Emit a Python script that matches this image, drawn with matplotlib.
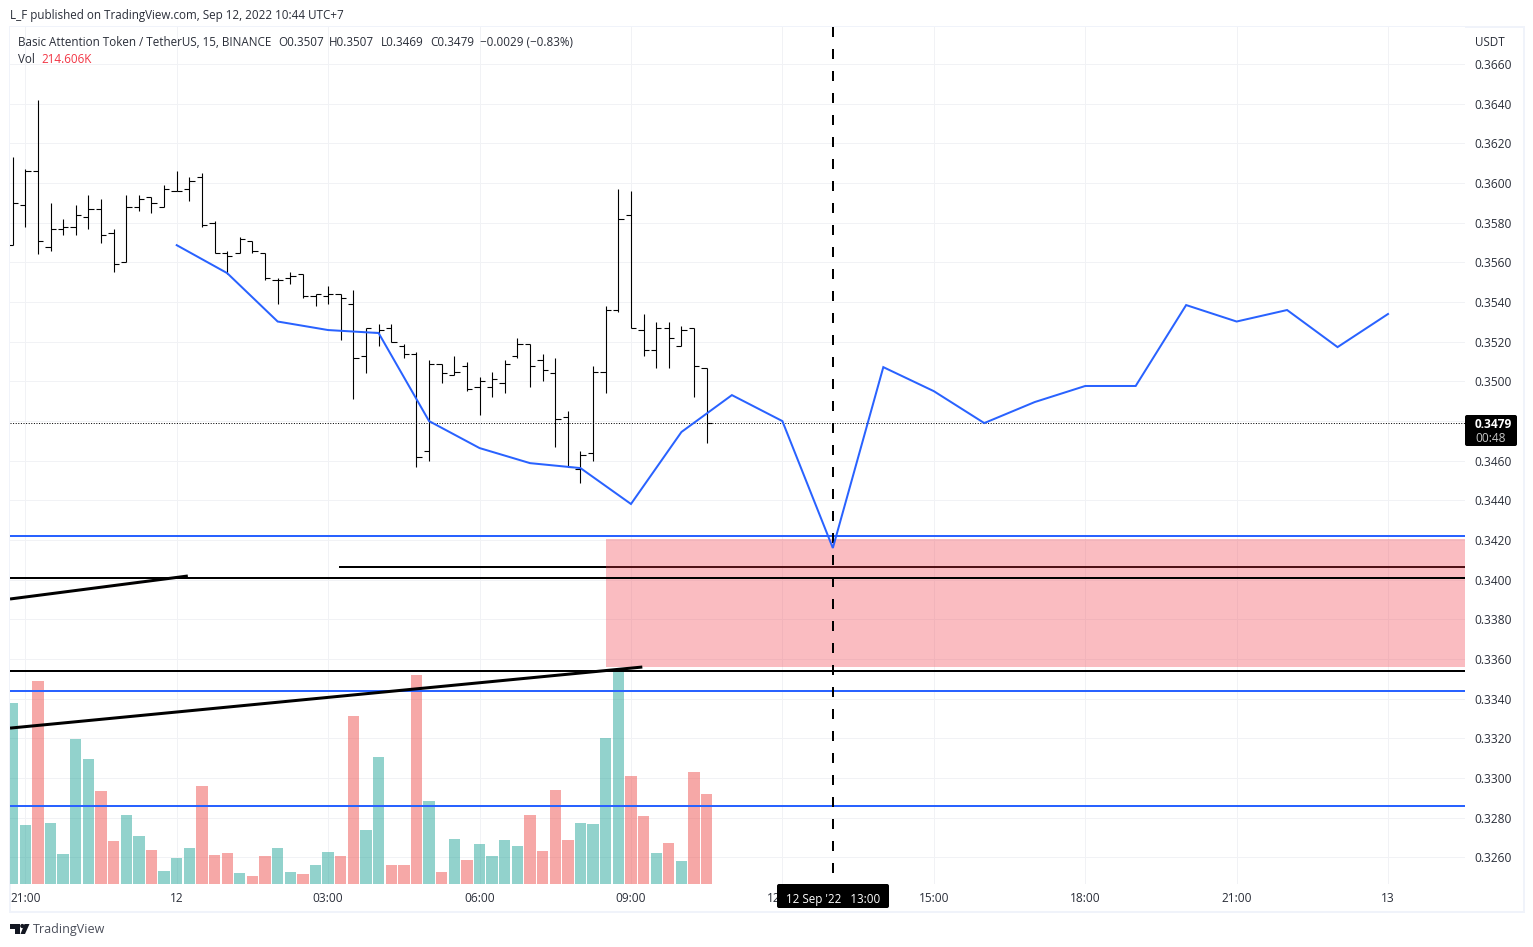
import numpy as np
import matplotlib
matplotlib.use("Agg")
import matplotlib.pyplot as plt
from matplotlib.patches import FancyBboxPatch, Rectangle, Polygon, Circle
from matplotlib.transforms import IdentityTransform

plt.rcParams['font.family'] = ['Open Sans', 'DejaVu Sans']
plt.rcParams['lines.scale_dashes'] = False

W, H = 1533, 947

# bars start one bar before the 21:00 tick (index 0)
opens = [.3569,.3589,.3606,.3568,.3577,.3578,.3583,.3587,.3575,.3560,.3588,.3593,.3588,.3596,.3597,.3603,.3580,.3565,.3565,.3571,.3565,.3551,.3552,.3554,.3543,.3543,.3544,.3539,.3513,.3525,.3527,.3518,.3514,.3465,.3509,.3503,.3508,.3497,.3497,.3499,.3513,.3519,.3511,.3504,.3482,.3456,.3464,.3505,.3536,.3584,.3526,.3516,.3527,.3518,.3527,.3507]
highs = [.3613,.3607,.3642,.3590,.3582,.3589,.3594,.3592,.3577,.3594,.3594,.3593,.3599,.3606,.3603,.3605,.3581,.3566,.3573,.3571,.3565,.3552,.3555,.3554,.3544,.3548,.3544,.3546,.3527,.3529,.3529,.3519,.3515,.3511,.3509,.3513,.3510,.3502,.3505,.3511,.3522,.3519,.3514,.3512,.3485,.3465,.3508,.3538,.3597,.3596,.3534,.3530,.3530,.3528,.3527,.3507]
lows = [.3569,.3578,.3564,.3566,.3574,.3574,.3577,.3570,.3555,.3560,.3586,.3585,.3588,.3596,.3591,.3578,.3565,.3554,.3565,.3565,.3551,.3539,.3549,.3542,.3538,.3539,.3521,.3491,.3504,.3518,.3520,.3512,.3457,.3460,.3499,.3503,.3495,.3483,.3492,.3494,.3512,.3497,.3500,.3467,.3457,.3449,.3460,.3494,.3535,.3527,.3513,.3507,.3507,.3518,.3492,.3469]
closes = [.3590,.3606,.3571,.3577,.3578,.3584,.3587,.3574,.3559,.3588,.3592,.3590,.3597,.3596,.3601,.3579,.3565,.3563,.3572,.3566,.3552,.3551,.3553,.3543,.3544,.3544,.3542,.3512,.3527,.3526,.3520,.3514,.3462,.3509,.3504,.3505,.3496,.3500,.3501,.3509,.3519,.3508,.3506,.3481,.3457,.3463,.3505,.3536,.3582,.3527,.3516,.3527,.3522,.3526,.3508,.3479]
volumes = [432,141,484,145,72,346,298,222,103,165,114,81,31,62,86,234,69,74,26,19,67,86,29,24,45,76,67,401,129,303,45,45,498,198,29,107,57,95,67,105,91,165,79,224,105,145,143,348,510,258,162,74,98,55,267,214.6]

# forecast line: one point per hour, from the 00:00 bar
forecast = [.35687,.35546,.35302,.35259,.35244,.3480,.34664,.34588,.34563,.34382,.34745,.34931,.3480,.3416,.35072,.34951,.3479,.34896,.34977,.34977,.35385,.35302,.3536,.35173,.3534]
forecast_start, forecast_step = 12, 4

blue_levels = [.3422, .3344, .3286]
black_levels = [.3401, .3354]
short_level, short_start = .34064, 24.9
last_price = .3479
zone_low, zone_high, zone_start = .3356, .34205, 46.03
trend_a = ([-1.21, 12.88], [.33903, .34019])
trend_b = ([-1.21, 48.9], [.33252, .3356])
cursor_bar = 64

price_ticks = [round(.326 + .002 * i, 3) for i in range(21)]
time_ticks = [0, 12, 24, 36, 48, 60, 72, 84, 96, 108]
time_labels = ['21:00', '12', '03:00', '06:00', '09:00', '12:00', '15:00', '18:00', '21:00', '13']

TEXT = '#2a2e39'
BLUE = '#2962ff'
TEAL = '#26a69a'
RED = '#ef5350'
GRID = '#f1f2f5'
FRAME = '#f0f3fa'
PX = 0.72

XLIM = (-1.2126, 114.1)
YLIM = (.32466, .36787)

fig = plt.figure(figsize=(W / 100, H / 100), dpi=100, facecolor='white')
pos = [10 / W, (H - 884) / H, 1455 / W, 857 / H]

ax_back = fig.add_axes(pos, zorder=1)
ax_vol = fig.add_axes(pos, zorder=2, sharex=ax_back)
ax = fig.add_axes(pos, zorder=3, sharex=ax_back, sharey=ax_back)
for a in (ax_vol, ax):
    a.patch.set_visible(False)
    a.axis('off')
for s in ax_back.spines.values():
    s.set_visible(False)

ax_back.set_xlim(*XLIM)
ax_back.set_ylim(*YLIM)
ax_back.set_xticks(time_ticks, time_labels)
ax_back.set_yticks(price_ticks, [f'{p:.4f}' for p in price_ticks])
ax_back.yaxis.tick_right()
ax_back.tick_params(axis='both', length=0, labelsize=8.6, labelcolor=TEXT)
ax_back.tick_params(axis='x', pad=6)
ax_back.tick_params(axis='y', pad=7)
ax_back.grid(True, color=GRID, lw=PX)
ax_back.set_axisbelow(True)

# volume
idx = np.arange(-1, len(opens) - 1)
vol_colors = [TEAL if c >= o else RED for o, c in zip(opens, closes)]
ax_vol.bar(idx, volumes, width=0.9, color=vol_colors, alpha=0.5, linewidth=0)
ax_vol.set_ylim(0, 2044)

# short black level sits beneath the zone
ax.hlines(short_level, short_start, XLIM[1], color='black', lw=2 * PX, zorder=2)
ax.add_patch(Rectangle((zone_start, zone_low), XLIM[1] - zone_start, zone_high - zone_low,
                       facecolor='#f23645', alpha=0.33, linewidth=0, zorder=3))

for lv in black_levels:
    ax.hlines(lv, XLIM[0], XLIM[1], color='black', lw=2 * PX, zorder=4)
for lv in blue_levels:
    ax.hlines(lv, XLIM[0], XLIM[1], color=BLUE, lw=2 * PX, zorder=4)
for tx, ty in (trend_a, trend_b):
    ax.plot(tx, ty, color='black', lw=3 * PX, solid_capstyle='butt', zorder=4)

ax.plot([XLIM[0], XLIM[1]], [last_price, last_price], color='black', lw=PX,
        linestyle=(0, (PX, PX * 1.6)), zorder=4)

# OHLC bars
ax.vlines(idx, lows, highs, color='black', lw=1.1 * PX, zorder=5)
ax.hlines(opens, idx - 0.42, idx, color='black', lw=1.1 * PX, zorder=5)
ax.hlines(closes, idx, idx + 0.42, color='black', lw=1.1 * PX, zorder=5)

# forecast
fx = forecast_start + forecast_step * np.arange(len(forecast))
ax.plot(fx, forecast, color=BLUE, lw=2 * PX, solid_joinstyle='miter', zorder=6)

# cursor line
ax.plot([cursor_bar, cursor_bar], [YLIM[1], YLIM[0]], color='black', lw=2 * PX,
        linestyle=(0, (10 * PX, 12 * PX)), dash_capstyle='butt', zorder=5.5)
ax.set_xlim(*XLIM)
ax.set_ylim(*YLIM)


def px_text(x, y, s, **kw):
    kw.setdefault('color', TEXT)
    kw.setdefault('fontsize', 8.4)
    kw.setdefault('va', 'center')
    return fig.text(x / W, 1 - y / H, s, zorder=30, **kw)


def box(x0, y0, x1, y1):
    fig.add_artist(FancyBboxPatch((x0, H - y1), x1 - x0, y1 - y0,
                                  boxstyle='round,pad=0,rounding_size=2',
                                  transform=IdentityTransform(),
                                  facecolor='black', edgecolor='none', zorder=20))


# frame
fig.add_artist(Rectangle((9.5, H - 912), 1514, 885, transform=IdentityTransform(),
                         fill=False, edgecolor=FRAME, lw=2 * PX, zorder=0.5))

# price label and date label
box(1465, 415, 1517, 446)
px_text(1475, 424, '0.3479', color='white', fontweight='bold', fontsize=8.6)
px_text(1475, 438, '00:48', color='#c8c8c8', fontsize=8.6)
box(777, 884, 889, 908)
px_text(833, 899, "12 Sep '22   13:00", color='white', ha='center')

# header
px_text(10, 16, 'L_F published on TradingView.com, Sep 12, 2022 10:44 UTC+7')
px_text(18, 42.5, 'Basic Attention Token / TetherUS, 15, BINANCE')
px_text(278.5, 42.5, 'O0.3507')
px_text(329, 42.5, 'H0.3507')
px_text(381, 42.5, 'L0.3469')
px_text(430.5, 42.5, 'C0.3479')
px_text(479.5, 42.5, '\u22120.0029 (\u22120.83%)')
px_text(18, 59.5, 'Vol')
px_text(41, 59.5, '214.606K', color='#f23645')
px_text(1475, 42, 'USDT')

# footer logo
logo_t = [(10, 924), (19.5, 924), (19.5, 934), (15, 934), (15, 928.5), (10, 928.5)]
logo_v = [(24.5, 924), (29.5, 924), (25, 934), (20.5, 934)]
for pts in (logo_t, logo_v):
    fig.add_artist(Polygon([(x, H - y) for x, y in pts], closed=True, facecolor='#131722',
                           edgecolor='none', transform=IdentityTransform(), zorder=20))
fig.add_artist(Circle((22.3, H - 926), 2.1, facecolor='#131722', edgecolor='none',
                      transform=IdentityTransform(), zorder=20))
px_text(33, 929.5, 'TradingView', color='#4a4e5a', fontsize=9.0)

fig.savefig('out.png', dpi=100, facecolor='white')
